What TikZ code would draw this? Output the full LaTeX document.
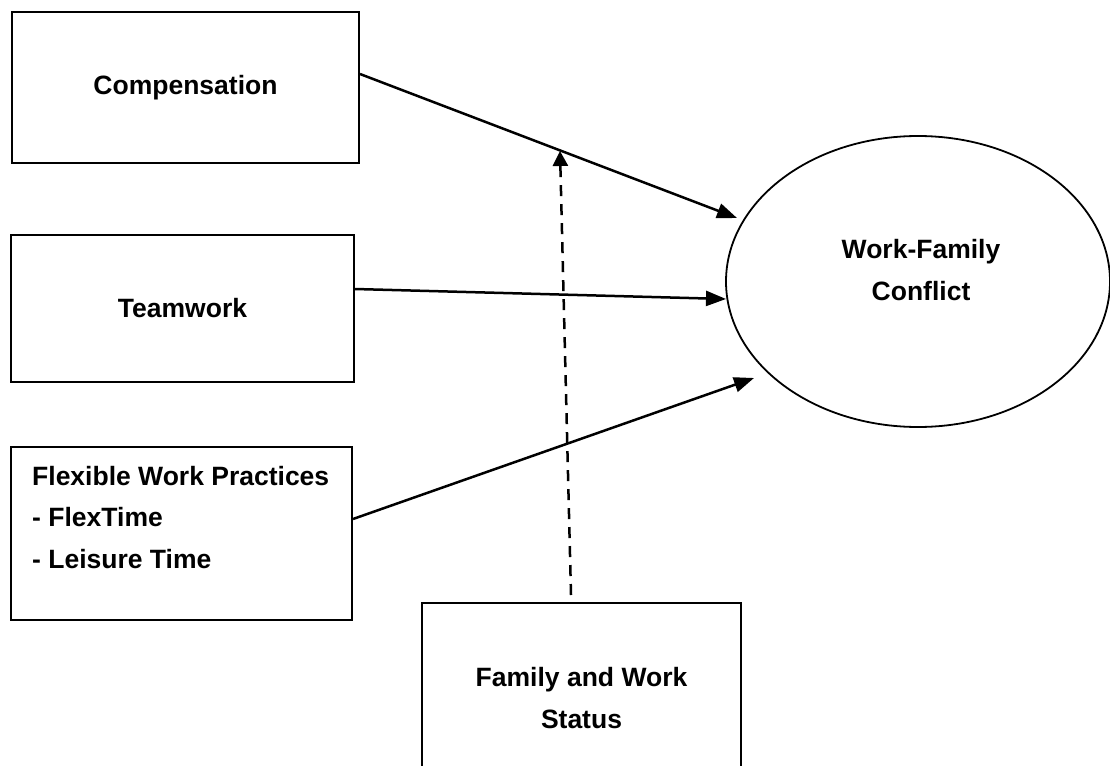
\documentclass[tikz,border=0pt]{standalone}
\usepackage{fontspec}
\setmainfont{Liberation Sans}
\usetikzlibrary{arrows.meta,shapes.geometric}
\begin{document}
\begin{tikzpicture}[x=1pt,y=1pt,
  lbl/.style={font=\fontsize{26.5}{41.5}\selectfont\bfseries, inner sep=0pt},
  box/.style={draw, line width=2pt, rectangle, inner sep=0pt, align=center, lbl},
  oval/.style={draw, line width=1.8pt, ellipse, inner sep=0pt},
  conn/.style={line width=2.5pt, -{Triangle[length=20pt,width=15pt]}},
  modconn/.style={line width=2.5pt, dash pattern=on 11pt off 8pt, -{Triangle[length=15pt,width=15pt]}}]
\useasboundingbox (0,0) rectangle (1110,-765);
\clip (0,0) rectangle (1110,-765);
% boxes
\node[box, minimum width=347pt, minimum height=151pt] (cmp) at (185.5,-87.5) {Compensation};
\node[box, minimum width=343pt, minimum height=147pt] (tw) at (182.5,-308.5) {Teamwork};
\node[box, minimum width=341pt, minimum height=173pt] (flx) at (181.5,-533.5) {};
\node[lbl, align=left, anchor=north west] (flxt) at (32,-465.7) {Flexible Work Practices\\- FlexTime\\- Leisure Time};
\node[box, minimum width=319pt, minimum height=190pt] (fam) at (581.5,-698) {Family and Work\\Status};
\node[oval, minimum width=384pt, minimum height=291pt] (wfc) at (918,-281.5) {};
\node[lbl, align=center] (wfct) at (921,-270) {Work-Family\\Conflict};
% connector end points
\coordinate (cmpout) at ([yshift=13.5pt]cmp.east);
\coordinate (twout) at ([yshift=19.5pt]tw.east);
\coordinate (flxout) at ([yshift=14.5pt]flx.east);
\coordinate (cmpin) at (737,-218);
\coordinate (twin) at (726,-299);
\coordinate (flxin) at (754,-378);
\coordinate (modbase) at (571,-595);
\coordinate (modtip) at (560,-151);
% connectors
\draw[conn] (cmpout) -- (cmpin);
\draw[conn] (twout) -- (twin);
\draw[conn] (flxout) -- (flxin);
\draw[modconn] (modbase) -- (modtip);
\end{tikzpicture}
\end{document}
